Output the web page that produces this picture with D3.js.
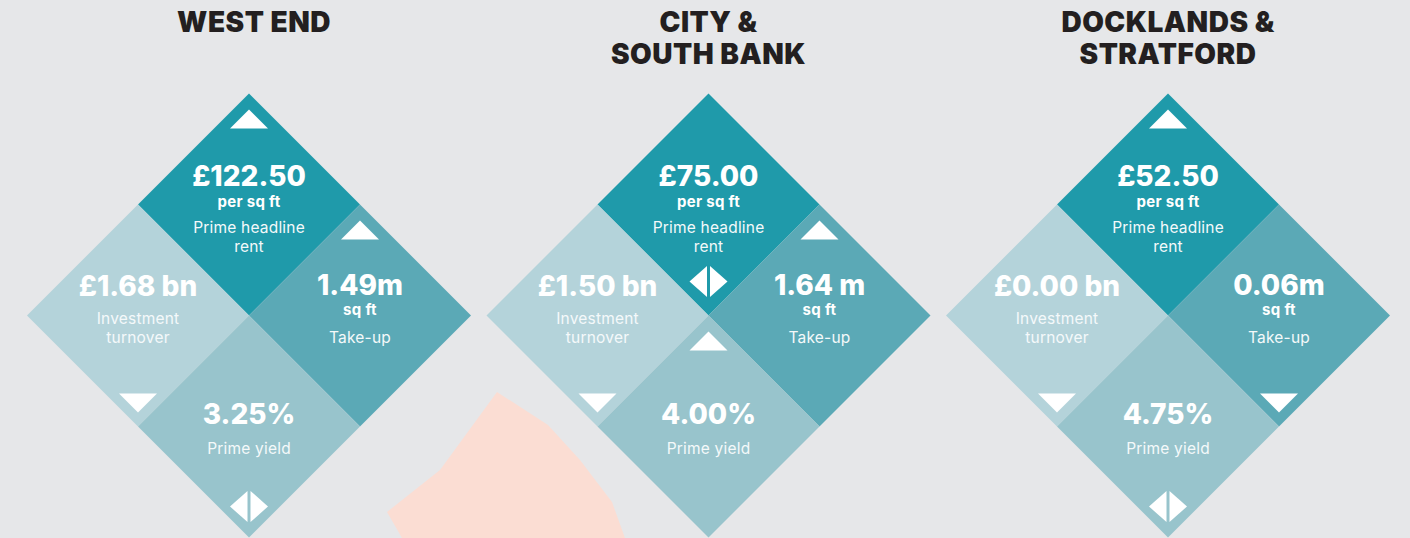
<!DOCTYPE html>
<meta charset="utf-8">
<style>
body { margin: 0; background: #e6e7e9; }
svg { display: block; }
.title { font: 900 28px Inter, sans-serif; fill: #231f20; text-anchor: middle; letter-spacing: 0.5px; }
.value { font: 800 28px Inter, sans-serif; fill: #fff; text-anchor: middle; }
.unit { font: 700 15px Inter, sans-serif; fill: #fff; text-anchor: middle; letter-spacing: 0.3px; }
.label { font: 400 15.5px Inter, sans-serif; fill: #f4f9fa; text-anchor: middle; letter-spacing: 0.2px; }
</style>
<body>
<div id="chart"></div>
<script src="https://cdnjs.cloudflare.com/ajax/libs/d3/7.8.5/d3.min.js"></script>
<script>
// data
var regions = ["West End", "City & South Bank", "Docklands & Stratford"];
var titleLines = [["WEST END"], ["CITY &", "SOUTH BANK"], ["DOCKLANDS &", "STRATFORD"]];

var rentValues = ["£122.50", "£75.00", "£52.50"];
var rentTrend = ["up", "flat", "up"];
var takeUpValues = ["1.49m", "1.64 m", "0.06m"];
var takeUpTrend = ["up", "up", "down"];
var investValues = ["£1.68 bn", "£1.50 bn", "£0.00 bn"];
var investTrend = ["down", "down", "down"];
var yieldValues = ["3.25%", "4.00%", "4.75%"];
var yieldTrend = ["flat", "up", "flat"];

// decorative blob behind the middle block
var blob = [[497, 392], [548, 425], [580, 460], [612, 502], [625, 538], [402, 538], [387, 512], [440, 470]];

var width = 1410, height = 538;
var half = 111; // half diagonal of one small diamond

var x = d3.scalePoint().domain(regions).range([249, 1168]);
var midY = 315.5;

var svg = d3.select("#chart").append("svg")
    .attr("width", width)
    .attr("height", height);

svg.append("rect").attr("width", width).attr("height", height).attr("fill", "#e6e7e9");

svg.append("path")
    .attr("d", d3.line()(blob) + "Z")
    .attr("fill", "#fbddd3");

// cells: position in the big diamond, colour, text layout
var cells = [
  {key: "rent",   dx: 0,     dy: -half, color: "#1f9aaa", values: rentValues,   trend: rentTrend,   unit: "per sq ft", label: ["Prime headline", "rent"], vy: -19, uy: 2, ly: 28, ay: -95, fy: 77},
  {key: "invest", dx: -half, dy: 0,     color: "#b4d3da", values: investValues, trend: investTrend, unit: null,        label: ["Investment", "turnover"], vy: -20, uy: 0, ly: 8, ay: -95, fy: 79},
  {key: "take",   dx: half,  dy: 0,     color: "#5ba9b6", values: takeUpValues, trend: takeUpTrend, unit: "sq ft",     label: ["Take-up"], vy: -21, uy: -1, ly: 27, ay: -95, fy: 79},
  {key: "yield",  dx: 0,     dy: half,  color: "#98c4cc", values: yieldValues,  trend: yieldTrend,  unit: null,        label: ["Prime yield"], vy: -3, uy: 0, ly: 27, ay: -95, fy: 80}
];

function diamond(r) {
  return "M0," + (-r) + "L" + r + ",0L0," + r + "L" + (-r) + ",0Z";
}

regions.forEach(function(region, i) {
  var cx = x(region);

  var title = svg.append("text").attr("class", "title");
  titleLines[i].forEach(function(t, j) {
    title.append("tspan").attr("x", cx + (i == 0 ? 5 : 0)).attr("y", 32 + j * 32).text(t);
  });

  var block = svg.append("g").attr("transform", "translate(" + cx + "," + midY + ")");

  cells.forEach(function(c) {
    var g = block.append("g").attr("transform", "translate(" + c.dx + "," + c.dy + ")");
    g.append("path").attr("d", diamond(half)).attr("fill", c.color);

    g.append("text").attr("class", "value").attr("y", c.vy).text(c.values[i]);
    if (c.unit) g.append("text").attr("class", "unit").attr("y", c.uy).text(c.unit);
    c.label.forEach(function(l, j) {
      g.append("text").attr("class", "label").attr("y", c.ly + j * 19).text(l);
    });

    var t = c.trend[i];
    if (t == "up") {
      g.append("path").attr("fill", "#fff")
        .attr("d", "M0," + c.ay + "L19," + (c.ay + 19) + "L-19," + (c.ay + 19) + "Z");
    } else if (t == "down") {
      g.append("path").attr("fill", "#fff")
        .attr("d", "M-19,78L19,78L0,97Z");
    } else {
      // flat: two triangles pointing apart
      var fy = c.fy;
      g.append("path").attr("fill", "#fff")
        .attr("d", "M-1.5," + (fy - 15.5) + "L-1.5," + (fy + 15.5) + "L-19," + fy + "Z");
      g.append("path").attr("fill", "#fff")
        .attr("d", "M1.5," + (fy - 15.5) + "L1.5," + (fy + 15.5) + "L19," + fy + "Z");
    }
  });
});
</script>
</body>
